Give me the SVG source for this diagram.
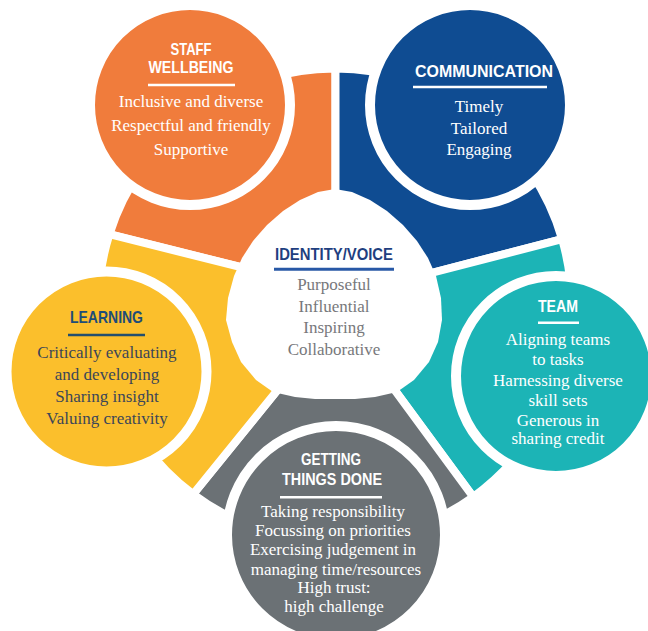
<svg xmlns="http://www.w3.org/2000/svg" width="648" height="631" viewBox="0 0 648 631">
<style>
.sector{stroke:#fff;stroke-width:8;stroke-linejoin:miter}
.node{stroke:#fff;stroke-width:10}
.title{font-family:"Liberation Sans",Arial,sans-serif;font-weight:bold;font-size:17px;text-anchor:middle}
.body{font-family:"Liberation Serif","Times New Roman",serif;font-size:17px;text-anchor:middle}
.w{fill:#fff}
.rule{stroke-width:2.5}
</style>
<rect width="648" height="631" fill="#fff"/>
<g id="connectors"></g>
<g id="staff-wellbeing">
<path class="sector" fill="#F07C3C" d="M335,300 L247.9,268.9 L109.4,234.2 A236.5,236.5 0 0 1 335.5,68.5 L335.5,210 Z"/>
<circle class="node" cx="190" cy="105" r="100" fill="#F07C3C"/>
<text class="title w" x="191" y="55" textLength="41" lengthAdjust="spacingAndGlyphs">STAFF</text>
<text class="title w" x="191" y="73" textLength="85" lengthAdjust="spacingAndGlyphs">WELLBEING</text>
<line class="rule" x1="148" y1="85" x2="235" y2="85" stroke="#fff"/>
<text class="body w" x="191" y="107">Inclusive and diverse</text>
<text class="body w" x="191" y="131">Respectful and friendly</text>
<text class="body w" x="191" y="155">Supportive</text>
</g>
<g id="communication">
<path class="sector" fill="#0F4C92" d="M335,300 L335.5,210 L335.5,68.5 A236.5,236.5 0 0 1 562.1,239.1 L421.6,275.5 Z"/>
<circle class="node" cx="470" cy="105" r="100" fill="#0F4C92"/>
<text class="title w" x="484" y="77" textLength="138" lengthAdjust="spacingAndGlyphs">COMMUNICATION</text>
<line class="rule" x1="413" y1="87" x2="547" y2="87" stroke="#fff"/>
<text class="body w" x="479" y="112">Timely</text>
<text class="body w" x="479" y="133.5">Tailored</text>
<text class="body w" x="479" y="155">Engaging</text>
</g>
<g id="team">
<path class="sector" fill="#1CB4B6" d="M335,300 L421.6,275.5 L562.1,239.1 A236.5,236.5 0 0 1 473.2,496.9 L384.7,376.4 Z"/>
<circle class="node" cx="556" cy="376" r="100" fill="#1CB4B6"/>
<text class="title w" x="558" y="311.7" textLength="40" lengthAdjust="spacingAndGlyphs">TEAM</text>
<line class="rule" x1="538" y1="322.7" x2="579" y2="322.7" stroke="#fff"/>
<text class="body w" x="558" y="345">Aligning teams</text>
<text class="body w" x="558" y="365">to tasks</text>
<text class="body w" x="558" y="386">Harnessing diverse</text>
<text class="body w" x="558" y="405.5">skill sets</text>
<text class="body w" x="558" y="425.5">Generous in</text>
<text class="body w" x="558" y="444">sharing credit</text>
</g>
<g id="getting-things-done">
<path class="sector" fill="#6B7175" d="M335,300 L384.7,376.4 L473.2,496.9 A236.5,236.5 0 0 1 193.1,494.2 L286.1,379.5 Z"/>
<circle class="node" cx="336" cy="535" r="109" fill="#6B7175"/>
<text class="title w" x="331" y="465" textLength="60" lengthAdjust="spacingAndGlyphs">GETTING</text>
<text class="title w" x="332" y="485" textLength="100" lengthAdjust="spacingAndGlyphs">THINGS DONE</text>
<line class="rule" x1="280" y1="497.3" x2="382" y2="497.3" stroke="#fff"/>
<text class="body w" x="333" y="516.7">Taking responsibility</text>
<text class="body w" x="333" y="535.5">Focussing on priorities</text>
<text class="body w" x="333" y="555">Exercising judgement in</text>
<text class="body w" x="336" y="575">managing time/resources</text>
<text class="body w" x="334" y="593">High trust:</text>
<text class="body w" x="334" y="612">high challenge</text>
</g>
<g id="learning">
<path class="sector" fill="#FBBF2C" d="M335,300 L286.1,379.5 L193.1,494.2 A236.5,236.5 0 0 1 109.4,234.2 L247.9,268.9 Z"/>
<circle class="node" cx="106.5" cy="371.5" r="100" fill="#FBBF2C"/>
<text class="title" x="106.5" y="323" fill="#1E4D78" textLength="73" lengthAdjust="spacingAndGlyphs">LEARNING</text>
<line class="rule" x1="68" y1="335" x2="145" y2="335" stroke="#234F6E"/>
<text class="body" x="107" y="357.5" fill="#3B4658">Critically evaluating</text>
<text class="body" x="107" y="379.5" fill="#3B4658">and developing</text>
<text class="body" x="107" y="401.5" fill="#3B4658">Sharing insight</text>
<text class="body" x="107" y="423.5" fill="#3B4658">Valuing creativity</text>
</g>
<g id="identity-voice">
<polygon fill="#fff" points="335,189 352,192 370,200 387,211 403,225 417,241 428,258 436,276 441,298 442,320 438,342 429,362 414,380 397,392 375,397 355,399 335,399 315,399 295,397 273,392 256,380 241,362 232,342 226,320 228,298 234,276 242,258 253,241 267,225 283,211 300,200 318,192"/>
<text class="title" x="334" y="260" fill="#1F3F80" textLength="118" lengthAdjust="spacingAndGlyphs">IDENTITY/VOICE</text>
<line x1="274" y1="269.3" x2="394" y2="269.3" stroke="#2858A6" stroke-width="3"/>
<text class="body" x="334" y="290" fill="#77787B">Purposeful</text>
<text class="body" x="334" y="311.5" fill="#77787B">Influential</text>
<text class="body" x="334" y="333" fill="#77787B">Inspiring</text>
<text class="body" x="334" y="354.5" fill="#77787B">Collaborative</text>
</g>
</svg>
